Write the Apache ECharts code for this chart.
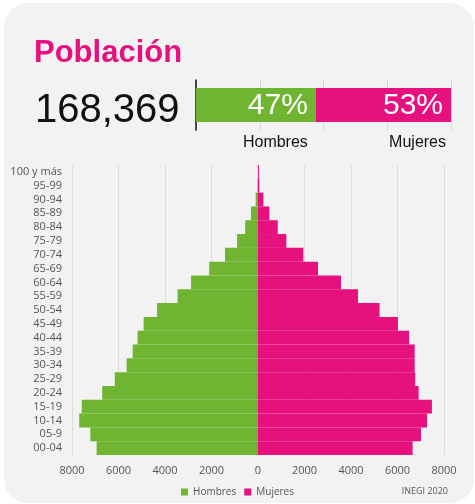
<!DOCTYPE html>
<html>
<head>
<meta charset="utf-8">
<script src="https://cdn.jsdelivr.net/npm/echarts@6/dist/echarts.min.js"></script>
<style>
  html, body { margin: 0; padding: 0; background: #fff; }
  #main { width: 475px; height: 504px; }
</style>
</head>
<body>
<div id="main"></div>
<script>
// datos (INEGI 2020)
var totalPob = '168,369';
var sexos = ['Hombres', 'Mujeres'];
var porcentajes = [47, 53];

// de menor a mayor edad (abajo hacia arriba)
var edades = ['00-04', '05-9', '10-14', '15-19', '20-24', '25-29', '30-34', '35-39', '40-44', '45-49',
    '50-54', '55-59', '60-64', '65-69', '70-74', '75-79', '80-84', '85-89', '90-94', '95-99', '100 y más'];
var hombres = [6940, 7210, 7690, 7580, 6700, 6160, 5650, 5390, 5180, 4920,
    4340, 3460, 2880, 2100, 1420, 900, 550, 300, 100, 25, 8];
var mujeres = [6650, 7010, 7270, 7480, 6910, 6760, 6740, 6740, 6500, 6020,
    5230, 4300, 3570, 2580, 1950, 1220, 850, 490, 230, 55, 40];

var ejeTicks = [-8000, 8000, 2000];

var verde = '#70b531';
var rosa = '#e6117e';
var gris = '#555';

var myChart = echarts.init(document.getElementById('main'));

var option = {
    animation: false,
    color: [verde, rosa],
    graphic: [{
        type: 'rect',
        left: 4,
        top: 3,
        z: -10,
        shape: {width: 470, height: 500, r: 24},
        style: {fill: '#f2f2f2'}
    }],
    title: [{
        text: 'Población',
        left: 29,
        top: 33,
        textStyle: {color: rosa, fontSize: 31, fontWeight: 'bold', fontFamily: 'Liberation Sans'}
    }, {
        text: totalPob,
        left: 30,
        top: 86,
        textStyle: {color: '#111', fontSize: 40, fontWeight: 'normal', fontFamily: 'Liberation Sans'}
    }, {
        text: 'INEGI 2020',
        right: 22,
        top: 482,
        textStyle: {color: gris, fontSize: 9, fontWeight: 'normal', fontFamily: 'Open Sans'}
    }],
    legend: {
        data: sexos,
        bottom: 2,
        left: 'center',
        icon: 'rect',
        itemWidth: 7,
        itemHeight: 7,
        itemGap: 8,
        textStyle: {color: gris, fontSize: 10, fontFamily: 'Open Sans'}
    },
    grid: [{
        left: 196,
        right: 24,
        top: 80,
        height: 50
    }, {
        left: 72,
        right: 31,
        top: 165,
        bottom: 49
    }],
    xAxis: [{
        gridIndex: 0,
        type: 'value',
        min: 0,
        max: 100,
        interval: 25,
        axisLine: {show: false},
        axisTick: {show: false},
        axisLabel: {show: false},
        splitLine: {lineStyle: {color: '#d6d6d6'}}
    }, {
        gridIndex: 1,
        type: 'value',
        min: ejeTicks[0],
        max: ejeTicks[1],
        interval: ejeTicks[2],
        axisLine: {show: false},
        axisTick: {show: false},
        axisLabel: {
            color: gris,
            fontSize: 11,
            fontFamily: 'Open Sans',
            margin: 10,
            formatter: function (v) { return Math.abs(v); }
        },
        splitLine: {lineStyle: {color: '#dcdcdc'}}
    }],
    yAxis: [{
        gridIndex: 0,
        type: 'category',
        data: ['pob'],
        axisLine: {lineStyle: {color: '#111', width: 1.5}},
        axisTick: {show: false},
        axisLabel: {show: false}
    }, {
        gridIndex: 1,
        type: 'category',
        data: edades,
        axisLine: {show: false, onZero: false},
        axisTick: {show: false},
        axisLabel: {color: gris, fontSize: 11, fontFamily: 'Open Sans', margin: 10, interval: 0}
    }],
    series: [{
        name: sexos[0],
        type: 'bar',
        xAxisIndex: 0,
        yAxisIndex: 0,
        stack: 'pct',
        barWidth: 34,
        data: [porcentajes[0]],
        label: {
            show: true,
            position: ['100%', 0],
            align: 'right',
            verticalAlign: 'top',
            offset: [-8, 0],
            formatter: function (p) { return '{p|' + p.value + '%}\n{n|' + p.seriesName + '}'; },
            rich: {
                p: {color: '#fff', fontSize: 30, lineHeight: 36, fontFamily: 'Liberation Sans', align: 'right'},
                n: {color: '#111', fontSize: 16, lineHeight: 37, fontFamily: 'Liberation Sans', align: 'right'}
            }
        }
    }, {
        name: sexos[1],
        type: 'bar',
        xAxisIndex: 0,
        yAxisIndex: 0,
        stack: 'pct',
        barWidth: 34,
        data: [porcentajes[1]],
        label: {
            show: true,
            position: ['100%', 0],
            align: 'right',
            verticalAlign: 'top',
            offset: [-8, 0],
            formatter: function (p) { return '{p|' + p.value + '%}\n{n|' + p.seriesName + '}'; },
            rich: {
                p: {color: '#fff', fontSize: 30, lineHeight: 36, fontFamily: 'Liberation Sans', align: 'right'},
                n: {color: '#111', fontSize: 16, lineHeight: 37, fontFamily: 'Liberation Sans', align: 'right', padding: [0, -3, 0, 0]}
            }
        }
    }, {
        name: sexos[0],
        type: 'bar',
        xAxisIndex: 1,
        yAxisIndex: 1,
        stack: 'edad',
        barCategoryGap: '0%',
        data: hombres.map(function (v) { return -v; })
    }, {
        name: sexos[1],
        type: 'bar',
        xAxisIndex: 1,
        yAxisIndex: 1,
        stack: 'edad',
        barCategoryGap: '0%',
        data: mujeres
    }]
};

myChart.setOption(option);
</script>
</body>
</html>
